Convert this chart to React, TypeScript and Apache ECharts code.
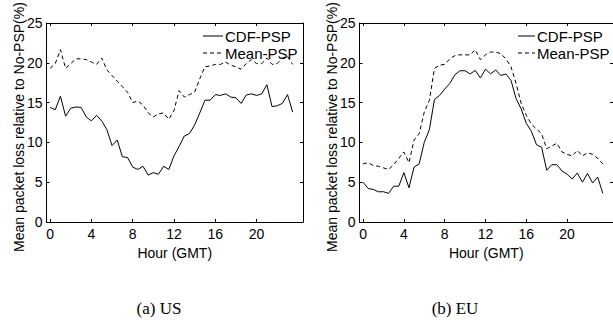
import React, { useEffect, useRef } from "react";
import * as echarts from "echarts";

const hours = [0, 0.5, 1, 1.5, 2, 2.5, 3, 3.5, 4, 4.5, 5, 5.5, 6, 6.5, 7, 7.5, 8, 8.5, 9, 9.5, 10, 10.5, 11, 11.5,
  12, 12.5, 13, 13.5, 14, 14.5, 15, 15.5, 16, 16.5, 17, 17.5, 18, 18.5, 19, 19.5, 20, 20.5, 21, 21.5, 22, 22.5, 23, 23.5];

const usCdf = [14.4, 14.1, 15.8, 13.3, 14.3, 14.45, 14.4, 13.2, 12.7, 13.4, 12.7, 11.6, 9.6, 10.3, 8.2, 8.1,
  6.9, 6.6, 7.0, 5.9, 6.2, 6.0, 7.0, 6.6, 8.3, 9.5, 10.8, 11.1, 12.2, 13.7, 15.3, 15.3,
  16.0, 15.9, 16.1, 15.7, 15.6, 14.9, 15.95, 16.1, 15.9, 16.1, 17.25, 14.5, 14.6, 14.9, 16.0, 13.8];
const usMean = [19.3, 19.9, 21.65, 19.3, 19.9, 20.5, 20.5, 20.4, 20.1, 19.8, 20.6, 19.1, 18.4, 17.7, 17.0, 16.3,
  15.0, 15.2, 14.7, 13.7, 13.2, 13.6, 13.7, 12.9, 14.0, 16.5, 15.7, 16.0, 16.3, 18.0, 19.5, 19.6,
  19.8, 19.8, 20.1, 19.7, 19.5, 19.2, 19.9, 20.4, 19.9, 19.9, 20.6, 19.8, 19.9, 20.6, 20.8, 19.8];
const euCdf = [5.0, 4.2, 4.1, 3.8, 3.8, 3.6, 4.5, 4.5, 6.2, 4.3, 6.9, 7.3, 10.0, 11.6, 15.4, 15.9,
  16.7, 17.4, 18.5, 19.0, 19.0, 18.6, 19.05, 18.1, 19.2, 18.6, 19.1, 18.4, 18.6, 17.8, 15.5, 14.2,
  12.4, 11.4, 9.7, 9.4, 6.5, 7.2, 7.2, 6.4, 6.0, 5.4, 6.15, 5.0, 6.1, 4.9, 5.65, 3.6];
const euMean = [7.3, 7.45, 7.1, 7.0, 6.8, 6.6, 7.2, 8.0, 8.8, 7.45, 10.3, 11.1, 13.8, 15.3, 19.3, 19.7,
  19.8, 20.5, 20.9, 21.0, 21.0, 21.0, 21.65, 20.4, 21.0, 21.35, 21.35, 21.15, 20.5, 19.5, 17.4, 14.9,
  13.4, 12.3, 11.7, 11.1, 9.2, 9.55, 9.9, 8.8, 8.5, 8.3, 9.0, 8.3, 8.7, 8.5, 8.0, 7.3];

const xTicks = [0, 4, 8, 12, 16, 20];
const seriesNames = ["CDF-PSP", "Mean-PSP"];
const yTitle = "Mean packet loss relative to No-PSP(%)";
const xTitle = "Hour (GMT)";
const captions = ["(a) US", "(b) EU"];

const FONT = "Liberation Sans, Arial, Helvetica, sans-serif";
const SERIF = "'Liberation Serif', 'Times New Roman', serif";

export default function App() {
  const ref = useRef<HTMLDivElement>(null);
  useEffect(() => {
    if (!ref.current) return;
    const chart = echarts.init(ref.current, null, { renderer: "svg" });
    const grids = [
      { left: 46.5, top: 23, width: 256.5, height: 199 },
      { left: 359.5, top: 23, width: 257, height: 199 },
    ];
    const xAxes: any[] = [];
    const yAxes: any[] = [];
    grids.forEach((_, gi) => {
      const base = {
        type: "value",
        gridIndex: gi,
        min: -0.35,
        max: 24.5,
        splitLine: { show: false },
        axisLine: { show: true, onZero: false, lineStyle: { color: "#000", width: 1 } },
      };
      xAxes.push({
        ...base,
        position: "bottom",
        axisTick: { show: true, inside: true, length: 3, customValues: xTicks, lineStyle: { color: "#000" } },
        axisLabel: { show: true, customValues: xTicks, color: "#000", fontSize: 14, fontFamily: FONT, margin: 5 },
        name: xTitle,
        nameLocation: "middle",
        nameGap: 15,
        nameTextStyle: { color: "#000", fontSize: 14, fontFamily: FONT },
      });
      xAxes.push({
        ...base,
        position: "top",
        axisTick: { show: true, inside: true, length: 3, customValues: xTicks, lineStyle: { color: "#000" } },
        axisLabel: { show: false },
      });
      const ybase = {
        type: "value",
        gridIndex: gi,
        min: 0,
        max: 25,
        interval: 5,
        splitLine: { show: false },
        axisLine: { show: true, onZero: false, lineStyle: { color: "#000", width: 1 } },
        axisTick: { show: true, inside: true, length: 3, lineStyle: { color: "#000" } },
      };
      yAxes.push({
        ...ybase,
        position: "left",
        axisLabel: { show: true, color: "#000", fontSize: 14, fontFamily: FONT, margin: 4 },
      });
      yAxes.push({
        ...ybase,
        position: "right",
        axisLabel: { show: false },
      });
    });
    const mk = (name: string, vals: number[], gi: number, dashed: boolean) => ({
      type: "line",
      name,
      xAxisIndex: gi * 2,
      yAxisIndex: gi * 2,
      data: hours.map((h, i) => [h, vals[i]]),
      symbol: "none",
      lineStyle: { color: "#000", width: 1, type: dashed ? [4, 3] : "solid" },
      itemStyle: { color: "#000" },
    });
    const legendPos = [
      { x0: 203, x1: 223, tx: 225 },
      { x0: 518, x1: 535, tx: 537 },
    ];
    const rows = [36, 53];
    const legendGraphics: any[] = [];
    legendPos.forEach((p) => {
      seriesNames.forEach((nm, ri) => {
        legendGraphics.push({
          type: "line",
          shape: { x1: p.x0, y1: rows[ri], x2: p.x1, y2: rows[ri] },
          style: { stroke: "#000", lineWidth: 1, lineDash: ri === 1 ? [4, 3] : null },
        });
        legendGraphics.push({
          type: "text",
          x: p.tx,
          y: rows[ri],
          style: { text: nm, fill: "#000", font: `15px ${FONT}`, align: "left", verticalAlign: "middle" },
        });
      });
    });
    const yTitleX = [18.5, 332];
    const yTitleGraphics = yTitleX.map((x) => ({
      type: "text",
      x,
      y: 127,
      rotation: Math.PI / 2,
      style: { text: yTitle, fill: "#000", font: `14px ${FONT}`, align: "center", verticalAlign: "middle" },
    }));
    chart.setOption({
      animation: false,
      grid: grids,
      xAxis: xAxes,
      yAxis: yAxes,
      series: [
        mk(seriesNames[0], usCdf, 0, false),
        mk(seriesNames[1], usMean, 0, true),
        mk(seriesNames[0], euCdf, 1, false),
        mk(seriesNames[1], euMean, 1, true),
      ],
      graphic: [
        ...legendGraphics,
        ...yTitleGraphics,
        {
          type: "text",
          x: 159,
          y: 308,
          style: { text: captions[0], fill: "#000", font: `17px ${SERIF}`, align: "center", verticalAlign: "middle" },
        },
        {
          type: "text",
          x: 455,
          y: 308,
          style: { text: captions[1], fill: "#000", font: `17px ${SERIF}`, align: "center", verticalAlign: "middle" },
        },
      ],
    });
    return () => chart.dispose();
  }, []);
  return (
    <div
      ref={ref}
      style={{ position: "fixed", left: 0, top: 0, width: 613, height: 322, background: "#fff" }}
    />
  );
}
